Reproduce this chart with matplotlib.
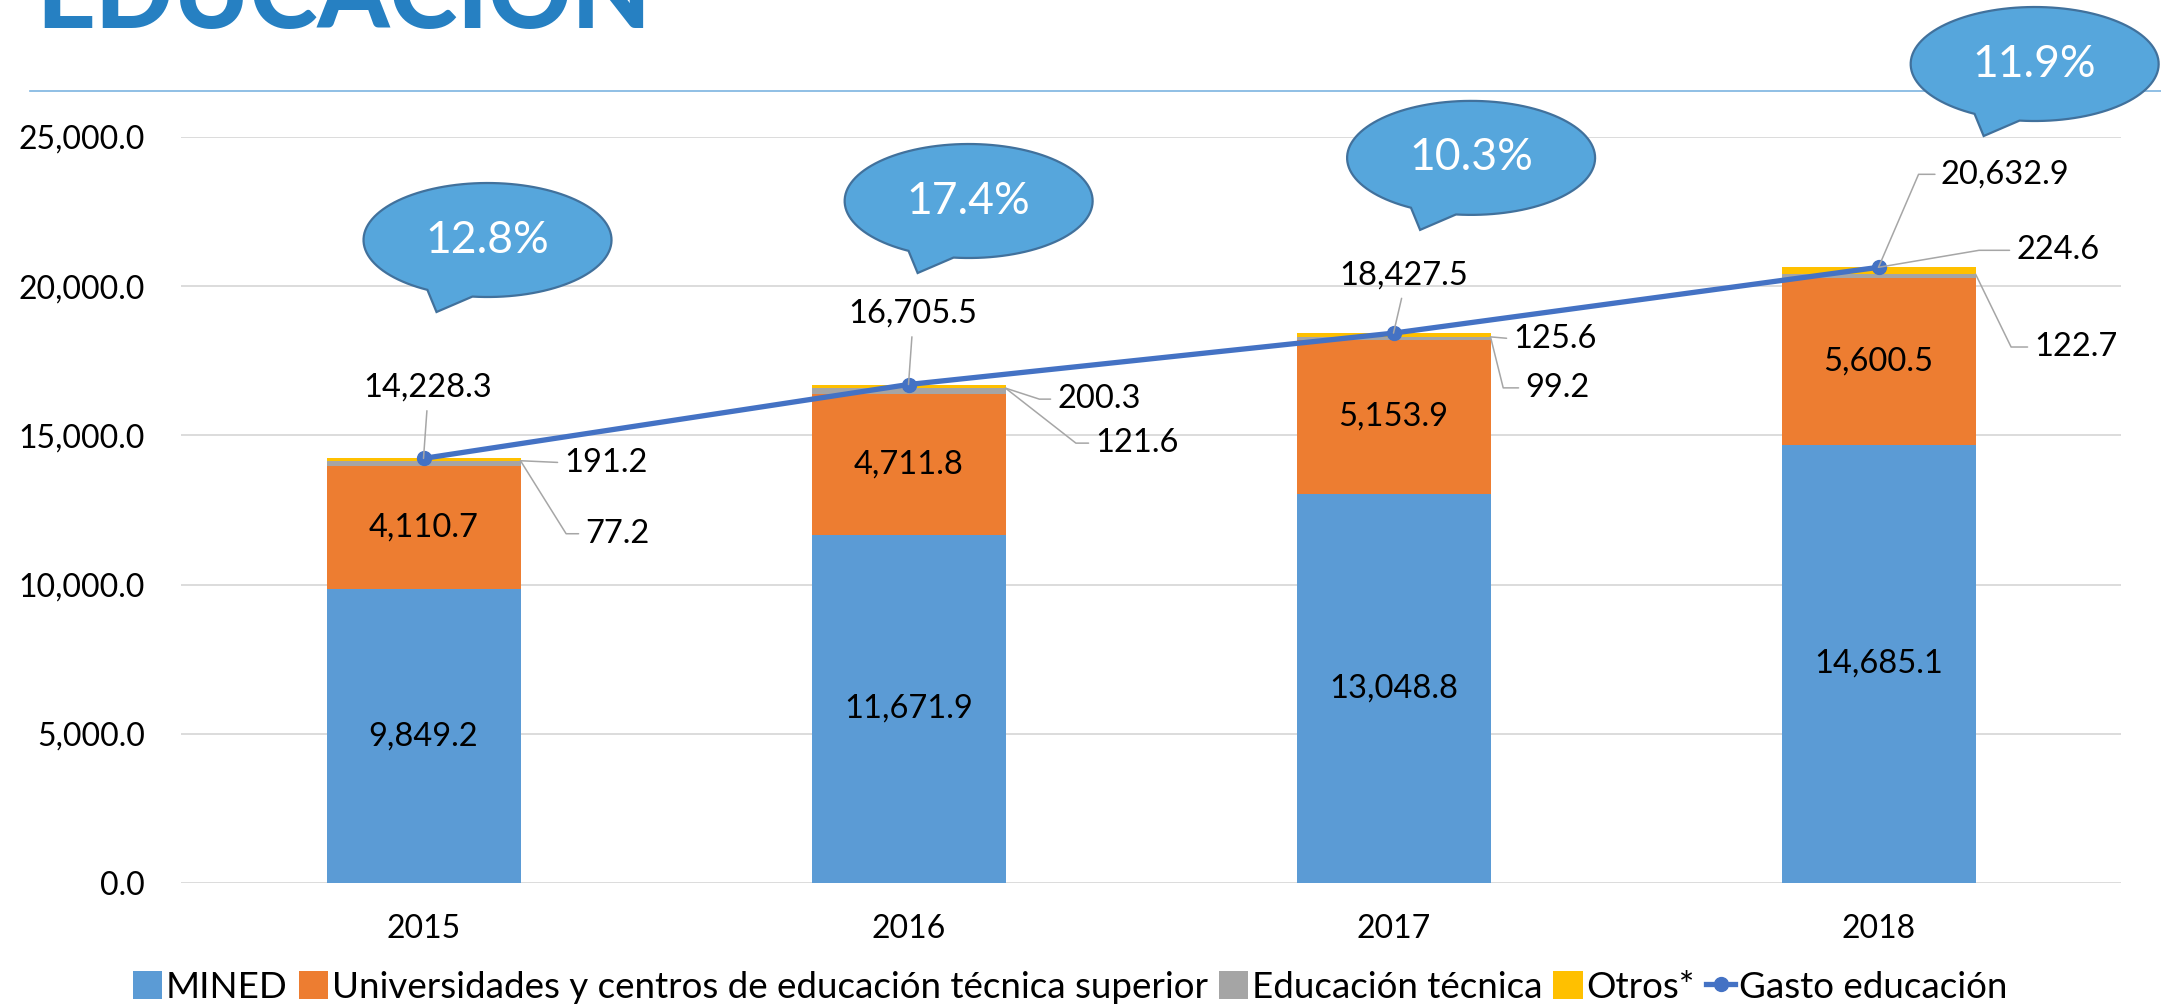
import numpy as np
import matplotlib
matplotlib.use("Agg")
import matplotlib.pyplot as plt
import matplotlib.transforms as mtransforms
from matplotlib.patches import Polygon, Patch
from matplotlib.lines import Line2D

# data (millones)
years = ["2015", "2016", "2017", "2018"]
mined = [9849.2, 11671.9, 13048.8, 14685.1]
universidades = [4110.7, 4711.8, 5153.9, 5600.5]
tecnica = [191.2, 200.3, 99.2, 122.7]
otros = [77.2, 121.6, 125.6, 224.6]
gasto = [14228.3, 16705.5, 18427.5, 20632.9]
crecimiento = ["12.8%", "17.4%", "10.3%", "11.9%"]

series_names = ["MINED", "Universidades y centros de educación técnica superior",
                "Educación técnica", "Otros*", "Gasto educación"]

# colours
c_mined = "#5B9BD5"
c_univ = "#ED7D31"
c_tec = "#A5A5A5"
c_otros = "#FFC000"
c_line = "#4472C4"
c_leader = "#A6A6A6"

plt.rcParams["font.family"] = ["Lato", "DejaVu Sans"]

W, H = 2161, 1006
fig = plt.figure(figsize=(W / 100, H / 100), dpi=100)
ax = fig.add_axes([181 / W, 123 / H, 1940 / W, 746 / H])

x = np.arange(len(years))
bw = 0.4
b1 = np.array(mined)
b2 = b1 + np.array(universidades)
b3 = b2 + np.array(tecnica)

ax.bar(x, mined, bw, color=c_mined, zorder=2)
ax.bar(x, universidades, bw, bottom=b1, color=c_univ, zorder=2)
ax.bar(x, tecnica, bw, bottom=b2, color=c_tec, zorder=2)
ax.bar(x, otros, bw, bottom=b3, color=c_otros, zorder=2)
ax.plot(x, gasto, color=c_line, lw=3.8, marker="o", ms=10, zorder=5)

ax.set_xlim(-0.5, 3.5)
ax.set_ylim(0, 25000)
ax.set_yticks(np.arange(0, 25001, 5000))
ax.yaxis.set_major_formatter(matplotlib.ticker.FuncFormatter(lambda v, p: f"{v:,.1f}"))
ax.set_xticks(x)
ax.set_xticklabels(years)
ax.tick_params(axis="y", length=0, pad=26, labelsize=23)
ax.tick_params(axis="x", length=0, pad=22, labelsize=23)
ax.grid(axis="y", color="#D9D9D9", lw=1.3, zorder=0)
for s in ax.spines.values():
    s.set_visible(False)

# labels inside the big segments
for i in range(len(years)):
    ax.text(i, mined[i] / 2, f"{mined[i]:,.1f}", ha="center", va="center", fontsize=23.5, zorder=3)
    ax.text(i, b1[i] + universidades[i] / 2, f"{universidades[i]:,.1f}",
            ha="center", va="center", fontsize=23.5, zorder=3)

# total labels with leaders (offsets in pixels)
tot_off = [(4, 71), (4, 71), (10, 58), (127, 93)]
tot_ha = ["center", "center", "center", "left"]
for i in range(len(years)):
    if tot_ha[i] == "center":
        arrow = dict(arrowstyle="-", color=c_leader, lw=1.1, relpos=(0.5, 0.0),
                     shrinkA=4, shrinkB=0)
        ha = "center"
        dx, dy = tot_off[i]
    else:
        arrow = dict(arrowstyle="-", color=c_leader, lw=1.1, relpos=(0.0, 0.5),
                     shrinkA=2, shrinkB=0, connectionstyle="angle,angleA=0,angleB=66.7,rad=0")
        ha = "left"
        dx, dy = tot_off[i][0] - 65, tot_off[i][1]
    ax.annotate(f"{gasto[i]:,.1f}", xy=(i, gasto[i]), xytext=(dx, dy),
                textcoords="offset pixels", ha=ha, va="center", fontsize=23.5,
                arrowprops=arrow, zorder=6)

# small segment labels: larger value above, smaller below
up_anchor_dx = [bw / 2, bw / 2, bw / 2, 0.0]
up_off = [(44, -2), (52, -11), (23, -2), (138, 17)]
up_ang = [0, -18, 0, 9.6]
lo_off = [(65, -73), (90, -55), (35, -51), (59, -73)]
lo_ang = [-58, -38, -76, -64]
for i in range(len(years)):
    hi_v = max(tecnica[i], otros[i])
    lo_v = min(tecnica[i], otros[i])
    ya = b3[i]
    ax_up = i + up_anchor_dx[i]
    y_up = gasto[i] if up_anchor_dx[i] == 0 else ya
    ax.annotate(f"{hi_v:,.1f}", xy=(ax_up, y_up), xytext=up_off[i],
                textcoords="offset pixels", ha="left", va="center", fontsize=23.5,
                arrowprops=dict(arrowstyle="-", color=c_leader, lw=1.1, relpos=(0.0, 0.5),
                                shrinkA=3, shrinkB=0,
                                connectionstyle=f"angle,angleA=0,angleB={up_ang[i]},rad=0"
                                if up_ang[i] != 0 else "arc3"),
                zorder=6)
    ax.annotate(f"{lo_v:,.1f}", xy=(i + bw / 2, ya), xytext=lo_off[i],
                textcoords="offset pixels", ha="left", va="center", fontsize=23.5,
                arrowprops=dict(arrowstyle="-", color=c_leader, lw=1.1, relpos=(0.0, 0.5),
                                shrinkA=3, shrinkB=0,
                                connectionstyle=f"angle,angleA=0,angleB={lo_ang[i]},rad=0"),
                zorder=6)

# speech balloons with growth rate
ball_center = [(0.132, 21548), (1.124, 22855), (2.160, 24300), (3.322, 27446)]
a, b = 124, 57
t = np.radians(np.linspace(263, 601, 120))
shape = np.column_stack([a * np.cos(t), b * np.sin(t)])
shape = np.vstack([shape, [[-51, -72]]])
for i in range(len(years)):
    cx, cy = ball_center[i]
    tr = mtransforms.ScaledTranslation(cx, cy, ax.transData)
    poly = Polygon(shape, closed=True, facecolor="#56A6DC", edgecolor="#41719C",
                   lw=1.6, transform=tr, clip_on=False, zorder=7)
    fig.add_artist(poly)
    fig.text(0, 0, crecimiento[i], transform=tr, ha="center", va="center",
             fontsize=32, color="white", zorder=8)

# legend
handles = [Patch(facecolor=c_mined), Patch(facecolor=c_univ), Patch(facecolor=c_tec),
           Patch(facecolor=c_otros),
           Line2D([], [], color=c_line, lw=3.8, marker="o", ms=10)]
fig.legend(handles, series_names, loc="center", bbox_to_anchor=(1070 / W, 1 - 987 / H),
           ncol=5, frameon=False, fontsize=26.5, handlelength=0.8, handleheight=0.8,
           handletextpad=0.1, columnspacing=0.3, borderpad=0)

# page title and rule
fig.text(36 / W, 1 - 28 / H, "EDUCACIÓN", fontsize=74, fontweight="black",
         color="#2680C2", ha="left", va="baseline")
fig.add_artist(Line2D([30 / W, 1], [1 - 91 / H, 1 - 91 / H], color="#7DB4E0", lw=1.2))

fig.savefig("out.png", dpi=100)
